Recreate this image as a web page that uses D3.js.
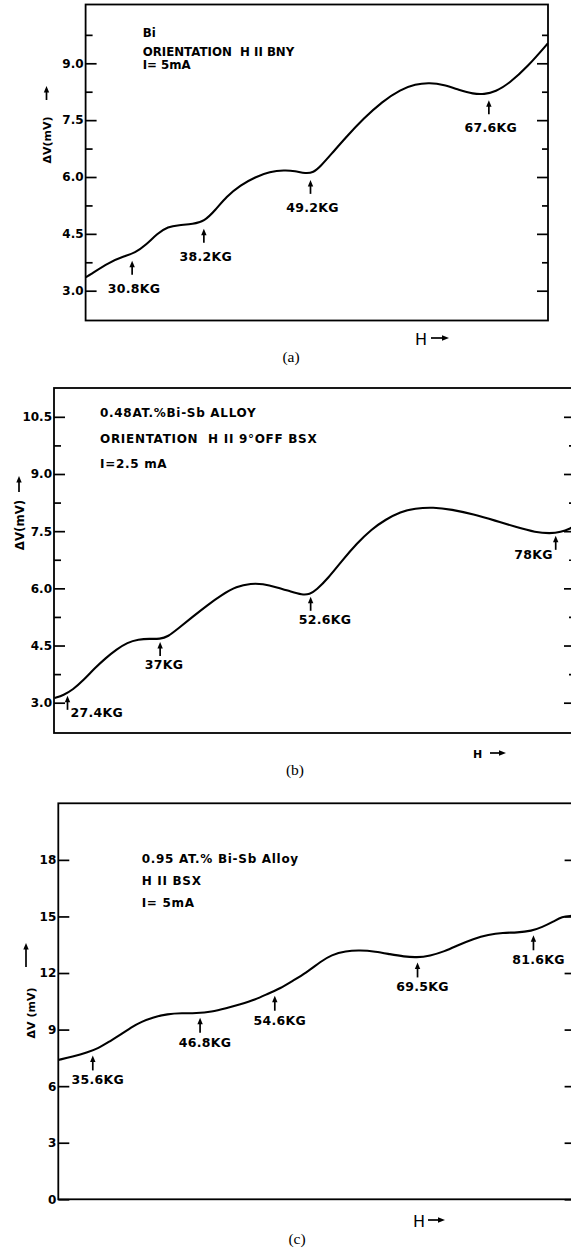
<!DOCTYPE html>
<html>
<head>
<meta charset="utf-8">
<script src="https://cdn.jsdelivr.net/npm/d3@7/dist/d3.min.js"></script>
<style>
  body { margin: 0; background: #fff; }
</style>
</head>
<body>
<div id="chart"></div>
<script>
// (a) Bi, H || BNY, I = 5 mA   (H in kG, dV in mV)
const aH = [26.0, 26.2, 28.5, 30.0, 31.1, 32.2, 33.4, 34.5, 35.6, 37.1, 38.2, 39.4, 40.5, 42.0, 43.5, 45.0, 46.5, 47.6, 48.7, 49.5, 50.2, 51.4, 52.9, 54.7, 56.6, 58.5, 60.0, 61.5, 63.0, 64.5, 66.0, 67.1, 68.3, 69.7, 71.6, 73.7];
const aV = [3.36, 3.38, 3.76, 3.91, 4.00, 4.20, 4.51, 4.69, 4.73, 4.76, 4.82, 5.13, 5.48, 5.79, 6.00, 6.14, 6.18, 6.16, 6.09, 6.12, 6.27, 6.62, 7.06, 7.55, 7.99, 8.31, 8.45, 8.49, 8.43, 8.30, 8.19, 8.18, 8.25, 8.47, 8.91, 9.53];
const aMarkH = [30.8, 38.2, 49.2, 67.6];
const aMarkText = ["30.8KG", "38.2KG", "49.2KG", "67.6KG"];
const aTicks = [3.0, 4.5, 6.0, 7.5, 9.0];
const aMinor = [3.75, 5.25, 6.75, 8.25, 9.75];
const aNotes = ["Bi", "ORIENTATION  H II BNY", "I= 5mA"];

// (b) 0.48 at.% Bi-Sb, H || 9 deg off BSX, I = 2.5 mA
const bH = [26.06, 27.0, 27.95, 29.1, 30.2, 31.35, 32.5, 33.6, 34.75, 35.9, 37.0, 37.8, 38.9, 40.4, 41.9, 43.4, 44.9, 46.45, 47.6, 49.1, 50.6, 51.7, 52.5, 53.2, 54.4, 55.9, 57.4, 58.9, 60.4, 61.9, 63.4, 65.3, 67.2, 69.5, 71.7, 74.0, 75.9, 77.4, 78.5, 79.6, 80.0];
const bV = [3.12, 3.20, 3.34, 3.60, 3.90, 4.17, 4.40, 4.58, 4.66, 4.68, 4.67, 4.73, 4.95, 5.26, 5.56, 5.83, 6.05, 6.13, 6.12, 6.03, 5.91, 5.83, 5.84, 5.96, 6.26, 6.74, 7.18, 7.55, 7.81, 8.01, 8.10, 8.13, 8.07, 7.94, 7.78, 7.60, 7.47, 7.44, 7.47, 7.58, 7.64];
const bMarkH = [27.4, 37.0, 52.6, 78.0];
const bMarkText = ["27.4KG", "37KG", "52.6KG", "78KG"];
const bTicks = [3.0, 4.5, 6.0, 7.5, 9.0, 10.5];
const bMinor = [3.75, 5.25, 6.75, 8.25, 9.75];
const bNotes = ["0.48AT.%Bi-Sb ALLOY", "ORIENTATION  H II 9°OFF BSX", "I=2.5 mA"];

// (c) 0.95 at.% Bi-Sb, H || BSX, I = 5 mA
const cH = [32.0, 33.5, 35.0, 36.2, 37.3, 38.5, 39.6, 40.7, 41.9, 43.4, 44.9, 46.4, 48.0, 49.5, 51.0, 52.5, 54.0, 55.2, 56.3, 57.9, 59.4, 60.5, 62.0, 63.5, 65.1, 66.6, 68.1, 69.4, 70.8, 72.3, 73.8, 75.3, 76.9, 78.4, 79.9, 81.4, 82.5, 83.7, 84.6, 85.5, 86.0];
const cV = [7.39, 7.57, 7.78, 8.01, 8.36, 8.72, 9.12, 9.42, 9.65, 9.83, 9.87, 9.87, 9.94, 10.13, 10.34, 10.57, 10.93, 11.19, 11.54, 12.02, 12.61, 12.96, 13.17, 13.21, 13.14, 13.00, 12.87, 12.82, 12.91, 13.14, 13.49, 13.81, 14.04, 14.14, 14.14, 14.23, 14.43, 14.73, 14.99, 15.03, 15.05];
const cMarkH = [35.6, 46.8, 54.6, 69.5, 81.6];
const cMarkText = ["35.6KG", "46.8KG", "54.6KG", "69.5KG", "81.6KG"];
const cTicks = [0, 3, 6, 9, 12, 15, 18];
const cNotes = ["0.95 AT.% Bi-Sb Alloy", "H II BSX", "I= 5mA"];

const W = 571, Hgt = 1249;
const FONT = "'DejaVu Sans', 'Liberation Sans', sans-serif";
const SERIF = "'Liberation Serif', 'DejaVu Serif', serif";

const svg = d3.select("#chart").append("svg")
  .attr("width", W)
  .attr("height", Hgt)
  .style("background", "#fff");

// small filled arrow, pointing up or right
function upArrow(g, x, yTip, yTail, w) {
  w = w || 1.7;
  g.append("line").attr("x1", x).attr("x2", x).attr("y1", yTip + 4).attr("y2", yTail)
    .attr("stroke", "#000").attr("stroke-width", w);
  g.append("path").attr("d", `M${x},${yTip} L${x - 2.7},${yTip + 6.5} L${x + 2.7},${yTip + 6.5} Z`)
    .attr("fill", "#000");
}
function rightArrow(g, x0, x1, y) {
  g.append("line").attr("x1", x0).attr("x2", x1 - 4).attr("y1", y).attr("y2", y)
    .attr("stroke", "#000").attr("stroke-width", 1.7);
  g.append("path").attr("d", `M${x1},${y} L${x1 - 7},${y - 2.7} L${x1 - 7},${y + 2.7} Z`)
    .attr("fill", "#000");
}

const panels = [
  {
    id: "a", H: aH, V: aV, markH: aMarkH, markText: aMarkText, ticks: aTicks, minor: aMinor, notes: aNotes,
    x0: 85.6, x1: 548, y0: 4.5, y1: 320.5, hDom: [26, 73.7], vDom: [2.214, 10.551], fmt: ".1f",
    noteX: 142.7, noteY: [37.3, 56, 69.3], noteSize: 11.8, noteSpace: 0,
    gap: 7, len: 14, place: () => ({ anchor: "middle", dx: 2, dy: 39 }),
    yLab: { text: "ΔV(mV)", x: 47, y: 140, a0: 100, a1: 86, ax: 46.5, size: 11 },
    hLab: { x: 415, y: 345, size: 16, weight: "normal", a0: 431, a1: 449, ay: 338 },
    cap: { text: "(a)", x: 291, y: 362 }
  },
  {
    id: "b", H: bH, V: bV, markH: bMarkH, markText: bMarkText, ticks: bTicks, minor: bMinor, notes: bNotes,
    x0: 54, x1: 575, y0: 388, y1: 733, hDom: [26, 80], vDom: [2.205, 11.256], fmt: ".1f",
    noteX: 100, noteY: [416.7, 443.3, 468.3], noteSize: 12, noteSpace: 0.7,
    gap: 3, len: 14,
    place: i => [
      { anchor: "start", dx: 3, dy: 24 },
      { anchor: "middle", dx: 4, dy: 30 },
      { anchor: "start", dx: -12, dy: 30 },
      { anchor: "end", dx: -3, dy: 26 }
    ][i],
    yLab: { text: "ΔV(mV)", x: 20, y: 525, a0: 492, a1: 476, ax: 19, size: 11.8 },
    hLab: { x: 473, y: 758.3, size: 11, weight: "bold", a0: 490, a1: 506, ay: 753 },
    cap: { text: "(b)", x: 295, y: 775 }
  },
  {
    id: "c", H: cH, V: cV, markH: cMarkH, markText: cMarkText, ticks: cTicks, minor: [], notes: cNotes,
    x0: 58.3, x1: 575.6, y0: 803.3, y1: 1199.3, hDom: [32, 86], vDom: [0, 21], fmt: "d",
    noteX: 141.7, noteY: [863.3, 885, 907.3], noteSize: 12, noteSpace: 0.7,
    gap: 5, len: 15, place: () => ({ anchor: "middle", dx: 5, dy: 34 }),
    yLab: { text: "ΔV (mV)", x: 31, y: 1013, a0: 967, a1: 943, ax: 26, size: 11 },
    hLab: { x: 413, y: 1227, size: 16, weight: "normal", a0: 428, a1: 445, ay: 1220 },
    cap: { text: "(c)", x: 297, y: 1244 }
  }
];

panels.forEach(p => {
  const x = d3.scaleLinear().domain(p.hDom).range([p.x0, p.x1]);
  const y = d3.scaleLinear().domain(p.vDom).range([p.y1, p.y0]);
  const vAt = d3.scaleLinear().domain(p.H).range(p.V);
  const g = svg.append("g").attr("class", "panel-" + p.id);

  g.append("clipPath").attr("id", "clip-" + p.id)
    .append("rect").attr("x", p.x0).attr("y", p.y0)
    .attr("width", p.x1 - p.x0).attr("height", p.y1 - p.y0);

  // frame
  g.append("rect")
    .attr("x", p.x0).attr("y", p.y0)
    .attr("width", p.x1 - p.x0).attr("height", p.y1 - p.y0)
    .attr("fill", "none").attr("stroke", "#000").attr("stroke-width", 1.8);

  // inward ticks, left with labels, right plain
  const left = g.append("g").attr("transform", `translate(${p.x0},0)`)
    .call(d3.axisLeft(y).tickValues(p.ticks).tickSize(-11).tickPadding(2).tickFormat(d3.format(p.fmt)));
  const leftMinor = g.append("g").attr("transform", `translate(${p.x0},0)`)
    .call(d3.axisLeft(y).tickValues(p.minor).tickSize(-7).tickFormat(""));
  const right = g.append("g").attr("transform", `translate(${p.x1},0)`)
    .call(d3.axisRight(y).tickValues(p.ticks).tickSize(-11).tickFormat(""));
  const rightMinor = g.append("g").attr("transform", `translate(${p.x1},0)`)
    .call(d3.axisRight(y).tickValues(p.minor).tickSize(-6).tickFormat(""));
  [left, leftMinor, right, rightMinor].forEach(ax => {
    ax.select(".domain").remove();
    ax.selectAll("line").attr("stroke", "#000").attr("stroke-width", 1.7);
  });
  left.selectAll("text")
    .style("font-family", FONT).style("font-weight", "bold")
    .style("font-size", "12px").attr("fill", "#000");

  // the curve
  const line = d3.line()
    .x((d, i) => x(p.H[i]))
    .y(d => y(d))
    .curve(d3.curveBasis);
  g.append("path")
    .datum(p.V)
    .attr("clip-path", `url(#clip-${p.id})`)
    .attr("d", line)
    .attr("fill", "none")
    .attr("stroke", "#000")
    .attr("stroke-width", 2.1);

  // field markers
  p.markH.forEach((h, i) => {
    const cx = x(h), cy = y(vAt(h));
    upArrow(g, cx, cy + p.gap, cy + p.gap + p.len);
    const pl = p.place(i);
    g.append("text")
      .attr("x", cx + pl.dx).attr("y", cy + pl.dy)
      .attr("text-anchor", pl.anchor)
      .style("font-family", FONT).style("font-weight", "bold").style("font-size", "12.5px")
      .style("letter-spacing", "0.3px")
      .text(p.markText[i]);
  });

  // sample notes
  p.notes.forEach((t, i) => {
    g.append("text")
      .attr("x", p.noteX).attr("y", p.noteY[i])
      .style("font-family", FONT).style("font-weight", "bold").style("font-size", p.noteSize + "px")
      .style("letter-spacing", p.noteSpace + "px")
      .style("white-space", "pre")
      .attr("xml:space", "preserve")
      .text(t);
  });

  // y-axis title with arrow
  g.append("text")
    .attr("transform", `translate(${p.yLab.x},${p.yLab.y}) rotate(-90)`)
    .attr("text-anchor", "middle").attr("dy", "0.35em")
    .style("font-family", FONT).style("font-weight", "bold").style("font-size", p.yLab.size + "px")
    .text(p.yLab.text);
  upArrow(g, p.yLab.ax, p.yLab.a1, p.yLab.a0);

  // H ->
  g.append("text")
    .attr("x", p.hLab.x).attr("y", p.hLab.y)
    .style("font-family", FONT).style("font-weight", p.hLab.weight).style("font-size", p.hLab.size + "px")
    .text("H");
  rightArrow(g, p.hLab.a0, p.hLab.a1, p.hLab.ay);

  // panel caption
  g.append("text")
    .attr("x", p.cap.x).attr("y", p.cap.y)
    .attr("text-anchor", "middle")
    .style("font-family", SERIF).style("font-size", "15.5px")
    .text(p.cap.text);
});
</script>
</body>
</html>
